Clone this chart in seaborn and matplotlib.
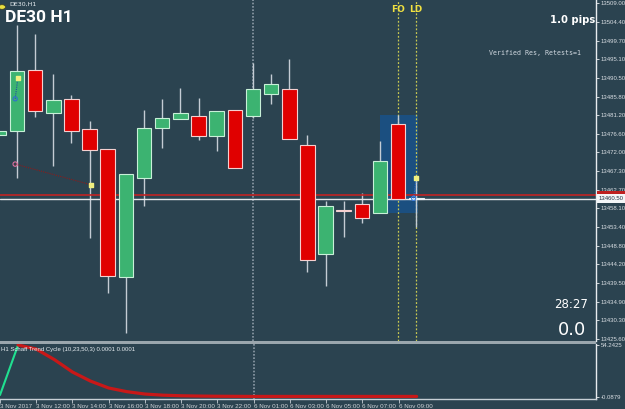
import numpy as np
import matplotlib
matplotlib.use("Agg")
import matplotlib.pyplot as plt
import matplotlib.transforms as mtransforms
from matplotlib.patches import Rectangle
import seaborn as sns

# ---------------- data ----------------
opens = [13476.3, 13477.3, 13492.4, 13481.8, 13485.3, 13477.8, 13472.8, 13441.1,
         13465.7, 13478.1, 13480.3, 13481.0, 13476.1, 13482.5, 13481.0, 13486.5,
         13487.7, 13473.8, 13446.8, 13457.7, 13459.2, 13457.0, 13479.0, 13460.6]
highs = [13477.6, 13503.6, 13501.4, 13491.5, 13486.2, 13479.8, 13472.8, 13466.6,
         13482.5, 13485.3, 13488.0, 13485.5, 13482.3, 13482.5, 13494.2, 13491.5,
         13495.2, 13476.3, 13459.9, 13459.9, 13461.9, 13474.8, 13481.3, 13465.7]
lows = [13476.0, 13465.7, 13480.8, 13468.6, 13474.3, 13450.8, 13437.1, 13427.2,
        13458.7, 13473.1, 13480.3, 13475.1, 13472.4, 13468.1, 13480.5, 13484.0,
        13475.3, 13442.3, 13438.9, 13451.0, 13454.5, 13457.0, 13460.5, 13453.5]
closes = [13477.3, 13492.2, 13482.3, 13485.0, 13477.3, 13472.6, 13441.3, 13466.6,
          13478.1, 13480.5, 13481.8, 13476.1, 13482.3, 13468.1, 13487.7, 13489.0,
          13475.3, 13445.3, 13458.7, 13457.5, 13455.7, 13469.9, 13460.5, 13460.5]

stc = [2.0, 54.24, 50.0, 39.0, 26.0, 16.5, 9.3, 5.5, 3.0, 1.8, 1.2, 0.9,
       0.7, 0.6, 0.5, 0.5, 0.5, 0.5, 0.5, 0.5, 0.5, 0.5, 0.5, 0.5]

time_ticks = [0, 2, 4, 6, 8, 10, 12, 14, 16, 18, 20, 22]
time_labels = ["3 Nov 2017", "3 Nov 12:00", "3 Nov 14:00", "3 Nov 16:00",
               "3 Nov 18:00", "3 Nov 20:00", "3 Nov 22:00", "6 Nov 01:00",
               "6 Nov 03:00", "6 Nov 05:00", "6 Nov 07:00", "6 Nov 09:00"]

price_ticks = [13509.00, 13504.40, 13499.70, 13495.10, 13490.50, 13485.80,
               13481.20, 13476.60, 13472.00, 13467.30, 13462.70, 13458.10,
               13453.40, 13448.80, 13444.20, 13439.50, 13434.90, 13430.30,
               13425.60]
price_labels = ["%.2f" % p for p in price_ticks]

bid = 13460.50
ask = 13461.50
zone_low, zone_high = 13457.0, 13481.3
zone_start, zone_end = 21.0, 23.1
separator_idx = 14
fo_idx, ld_idx = 22, 23
stc_max, stc_min = 54.2425, -0.0879

trade_x = [0.9, 5.05]
trade_y = [13469.1, 13464.0]
entry_x = [0.9, 1.05]
entry_y = [13485.3, 13490.5]
cur_x = [22.85, 23.0]
cur_y = [13460.6, 13465.7]

# ---------------- style ----------------
BG = "#2b4350"
sns.set_theme(style="dark")
plt.rcParams["font.family"] = ["DejaVu Sans"]
plt.rcParams["axes.facecolor"] = BG
plt.rcParams["figure.facecolor"] = BG

W, H = 625, 409
fig = plt.figure(figsize=(W / 100, H / 100), dpi=100)
fig.patch.set_facecolor(BG)


def frac(x0, y0, x1, y1):
    return [x0 / W, 1 - y1 / H, (x1 - x0) / W, (y1 - y0) / H]


ax = fig.add_axes(frac(0, 0, 596, 341))
axi = fig.add_axes(frac(0, 344, 596, 399))
for a in (ax, axi):
    a.set_facecolor(BG)
    a.grid(False)
    for s in a.spines.values():
        s.set_visible(False)
    a.spines["right"].set_visible(True)
    a.spines["right"].set_color("#e8ecef")
    a.spines["right"].set_linewidth(1)
axi.spines["bottom"].set_visible(True)
axi.spines["bottom"].set_color("#c8d0d6")
axi.spines["bottom"].set_linewidth(1)

XL = (0.063, 32.9)
ax.set_xlim(*XL)
axi.set_xlim(*XL)
ax.set_ylim(13425.20, 13509.82)
axi.set_ylim(-2.18, 55.29)

# separator strip between panels
fig.patches.append(Rectangle((0, 1 - 344 / H), 596 / W, 3 / H, transform=fig.transFigure,
                             facecolor="#9aa6ad", edgecolor="none"))

# ---------------- main chart ----------------
idx = np.arange(len(opens))
o = np.array(opens); c = np.array(closes)
up = c >= o
body_col = ["#3cb371" if u else "#e00000" for u in up]
edge_col = ["#c8f0d8" if u else "#f4d0d0" for u in up]
body_col[19] = "#7fcf9f"
body_col[23] = "#dfe6ea"
edge_col[23] = "#eef2f4"
heights = np.maximum(np.abs(c - o), 0.25)

ax.add_patch(Rectangle((zone_start, zone_low), zone_end - zone_start, zone_high - zone_low,
                       facecolor="#1b4f80", edgecolor="none", zorder=1))

ax.axvline(separator_idx, color="#8c9aa6", lw=1.2, ls=(0, (1, 1)), zorder=1.5)
axi.axvline(separator_idx, color="#8c9aa6", lw=1.2, ls=(0, (1, 1)), zorder=1.5)
ax.axvline(fo_idx, color="#c8c850", lw=0.9, ls=(0, (1.5, 1.5)), zorder=1.5)
ax.axvline(ld_idx, color="#c8c850", lw=0.9, ls=(0, (1.5, 1.5)), zorder=1.5)

ax.vlines(idx, lows, highs, color="#c4ccd4", lw=1, zorder=2)
ax.bar(idx, heights, bottom=np.minimum(o, c), width=0.8, color=body_col,
       edgecolor=edge_col, linewidth=0.8, zorder=3)

ax.axhline(ask, color="#c02424", lw=1.2, zorder=2.5)
ax.axhline(bid, color="#e6e8ea", lw=1, zorder=2.5)

# trade objects
ax.plot(trade_x, trade_y, color="#8a1c1c", lw=0.8, ls=(0, (1, 1)), zorder=4)
ax.scatter([trade_x[0]], [trade_y[0]], s=10, facecolor="none", edgecolor="#e070a0", lw=0.8, zorder=5)
ax.scatter([trade_x[1]], [trade_y[1]], s=6, marker="s", color="#f0f080", zorder=5)
ax.plot(entry_x, entry_y, color="#2050a0", lw=0.8, ls=(0, (1, 1)), zorder=4)
ax.scatter([entry_x[0]], [entry_y[0]], s=9, facecolor="none", edgecolor="#3070d0", lw=0.8, zorder=5)
ax.scatter([entry_x[1]], [entry_y[1]], s=6, marker="s", color="#f0f080", zorder=5)
ax.plot(cur_x, cur_y, color="#3070d0", lw=0.8, ls=(0, (1, 1)), zorder=4)
ax.scatter([cur_x[0]], [cur_y[0]], s=9, facecolor="none", edgecolor="#4080e0", lw=0.8, zorder=5)
ax.scatter([cur_x[1]], [cur_y[1]], s=6, marker="s", color="#f0f080", zorder=5)

# price axis
ax.yaxis.tick_right()
ax.set_yticks(price_ticks)
ax.set_yticklabels(price_labels)
ax.tick_params(axis="y", which="both", direction="out", length=2, width=0.6, color="#e8ecef",
               labelsize=4.3, labelcolor="#d8dde2", pad=1.5, right=True, left=False)
ax.set_xticks([])
for lab in ax.get_yticklabels():
    lab.set_fontfamily(["Liberation Sans", "DejaVu Sans"])

trans = mtransforms.blended_transform_factory(ax.transAxes, ax.transData)
ax.text(1.004, ask, "13461.50", transform=trans, fontsize=4.3, color="#b82020",
        va="center", ha="left", family=["Liberation Sans", "DejaVu Sans"],
        bbox=dict(boxstyle="square,pad=0.25", fc="#c02020", ec="none"), zorder=6, clip_on=False)
ax.text(1.004, bid, "13460.50", transform=trans, fontsize=4.3, color="#203040",
        va="center", ha="left", family=["Liberation Sans", "DejaVu Sans"],
        bbox=dict(boxstyle="square,pad=0.3", fc="#f4f6f8", ec="none"), zorder=7, clip_on=False)

# ---------------- indicator ----------------
sns.lineplot(x=idx[:2], y=stc[:2], ax=axi, color="#20e090", lw=1.5, legend=False)
sns.lineplot(x=idx[1:], y=stc[1:], ax=axi, color="#c81818", lw=2.3, legend=False)
axi.set_xlabel("")
axi.set_ylabel("")
axi.yaxis.tick_right()
axi.set_yticks([stc_max, stc_min])
axi.set_yticklabels(["%.4f" % stc_max, "%.4f" % stc_min])
axi.tick_params(axis="y", direction="out", length=2, width=0.6, color="#e8ecef",
                labelsize=4.3, labelcolor="#d8dde2", pad=1.5, right=True, left=False)
axi.set_xticks(time_ticks)
axi.set_xticklabels(time_labels)
axi.tick_params(axis="x", direction="out", length=3, width=0.6, color="#c8d0d6",
                labelsize=4.5, labelcolor="#d0d4d8", pad=0.5, bottom=True)
for lab in axi.get_xticklabels():
    lab.set_horizontalalignment("left")
    lab.set_fontfamily(["Liberation Sans", "DejaVu Sans"])
for lab in axi.get_yticklabels():
    lab.set_fontfamily(["Liberation Sans", "DejaVu Sans"])

# ---------------- texts ----------------
def ftext(x, y, s, **kw):
    fig.text(x / W, 1 - y / H, s, **kw)

fig.patches.append(matplotlib.patches.Circle((2 / W, 1 - 7 / H), 3.5 / W, transform=fig.transFigure,
                                            facecolor="#e8e040", edgecolor="#404020", lw=0.5))
ftext(9, 4.5, "DE30,H1", fontsize=4.5, color="#e8eef2", va="center", ha="left")
ftext(5, 18, "DE30 H1", fontsize=12.5, fontweight="bold", color="white", va="center", ha="left",
      family=["Liberation Sans Narrow", "Roboto", "DejaVu Sans"])
ftext(398, 9, "FO", fontsize=6.5, fontweight="bold", color="#f0e040", va="center", ha="center")
ftext(416, 9, "LD", fontsize=6.5, fontweight="bold", color="#f0e040", va="center", ha="center")
ftext(595, 20, "1.0 pips", fontsize=7.2, fontweight="bold", color="white", va="center", ha="right")
ftext(489, 53, "Verified Res, Retests=1", fontsize=4.8, color="#d0d8e0", va="center", ha="left",
      family=["DejaVu Sans Mono"])
ftext(588, 305, "28:27", fontsize=8.5, color="white", va="center", ha="right")
ftext(586, 330, "0.0", fontsize=13, color="white", va="center", ha="right")
ftext(1, 349, "H1 Schaff Trend Cycle (10,23,50,3) 0.0001 0.0001", fontsize=4.3, color="#e8eef2",
      va="center", ha="left", family=["Liberation Sans", "DejaVu Sans"])

fig.savefig("out.png", dpi=100, facecolor=BG)
